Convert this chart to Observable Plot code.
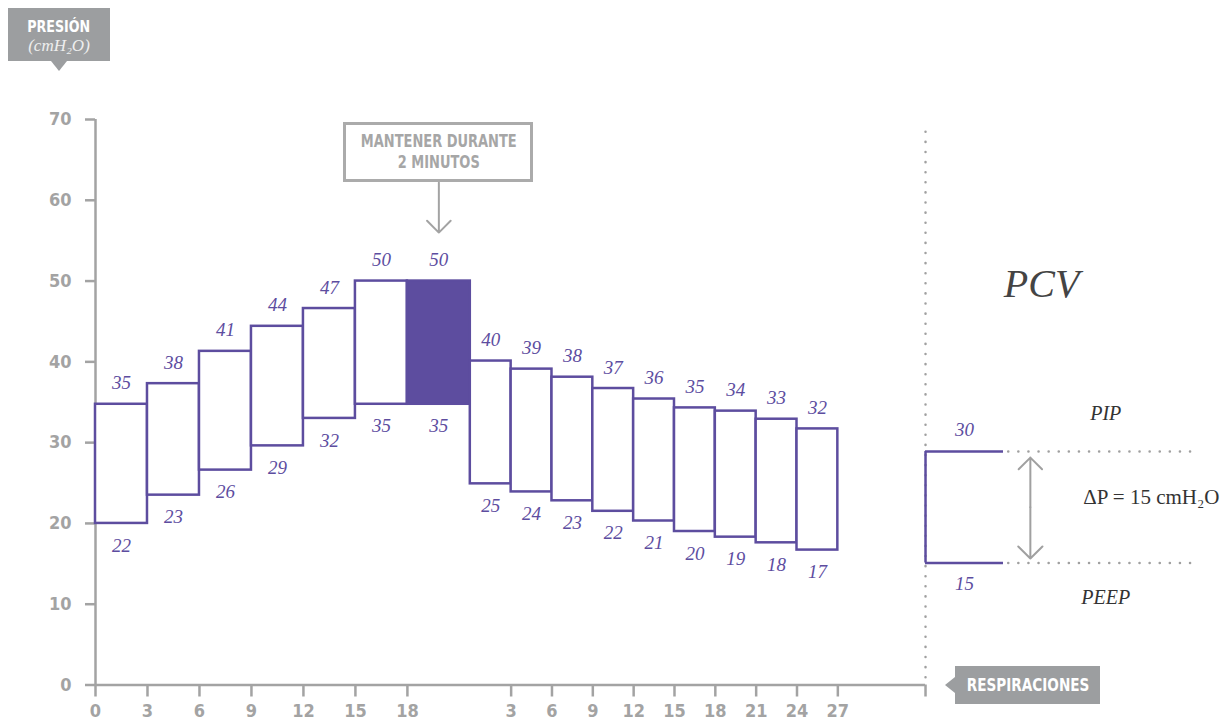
<!DOCTYPE html>
<html><head><meta charset="utf-8">
<script src="https://cdn.jsdelivr.net/npm/d3@7"></script>
<script src="https://cdn.jsdelivr.net/npm/@observablehq/plot@0.6"></script>
<style>
body{margin:0;background:#fff;}
#wrap{position:relative;width:1227px;height:720px;overflow:hidden;background:#fff;}
.cond{font-family:'DejaVu Sans Condensed','Liberation Sans Narrow','Arial Narrow',sans-serif;font-stretch:condensed;font-weight:bold;}
.sx{display:inline-block;transform-origin:50% 50%;white-space:nowrap;}
.badge{position:absolute;background:#9c9ea0;color:#fff;text-align:center;box-sizing:border-box;}
.badge .tri{position:absolute;width:0;height:0;}
#callout{position:absolute;box-sizing:border-box;border:3px solid #ababab;background:#fff;color:#a6a6a6;text-align:center;font-size:17px;line-height:21px;padding-top:6px;}
</style></head><body><div id="wrap"></div>
<script>
// ---------- data ----------
const rampTopLabels    = [35, 38, 41, 44, 47, 50];
const rampBottomLabels = [22, 23, 26, 29, 32, 35];
const rampTop    = [34.75, 37.3, 41.3, 44.4, 46.6, 50.0];
const rampBottom = [20.0, 23.5, 26.6, 29.6, 33.0, 34.75];
const rampStartBreath = [0, 3, 6, 9, 12, 15];

const holdTopLabel = 50, holdBottomLabel = 35;
const holdTop = 50.0, holdBottom = 34.75;

const descTopLabels    = [40, 39, 38, 37, 36, 35, 34, 33, 32];
const descBottomLabels = [25, 24, 23, 22, 21, 20, 19, 18, 17];
const descTop    = [40.1, 39.1, 38.1, 36.7, 35.4, 34.3, 33.9, 32.9, 31.7];
const descBottom = [24.9, 23.9, 22.8, 21.5, 20.3, 19.0, 18.3, 17.6, 16.7];
const descStartBreath = [0, 3, 6, 9, 12, 15, 18, 21, 24];

const rampTicks = [0, 3, 6, 9, 12, 15, 18];
const descTicks = [3, 6, 9, 12, 15, 18, 21, 24, 27];
const yTicks = [0, 10, 20, 30, 40, 50, 60, 70];

const pcvLabels = [30, 15];       // PIP, PEEP
const pcvLevels = [28.9, 15.1];   // as drawn
const pcvDelta = "ΔP = 15 cmH₂O";

// ---------- layout helpers ----------
const PURPLE = "#5d4d9f";
const GRAY = "#a3a3a3";
const SERIF = "'Liberation Serif','DejaVu Serif',serif";
const COND = "'DejaVu Sans Condensed','Liberation Sans Narrow','Arial Narrow',sans-serif";
const holdW = 3.63;                 // width of the 2-minute hold box
const descX0 = 18 + holdW;          // start of the decreasing phase
const descK = (42.84 - descX0) / 27; // breath -> x in the decreasing phase
const sepX = 47.9;                  // end of chart / PCV separator
const dx = b => descX0 + b * descK;

const boxes = [];
rampStartBreath.forEach((b, i) => boxes.push({x1: b, x2: b + 3, top: rampTop[i], bottom: rampBottom[i], tl: rampTopLabels[i], bl: rampBottomLabels[i], hold: false}));
boxes.push({x1: 18, x2: 18 + holdW, top: holdTop, bottom: holdBottom, tl: holdTopLabel, bl: holdBottomLabel, hold: true});
descStartBreath.forEach((b, i) => boxes.push({x1: dx(b), x2: dx(b + 3), top: descTop[i], bottom: descBottom[i], tl: descTopLabels[i], bl: descBottomLabels[i], hold: false}));

const tickMap = new Map();
rampTicks.forEach(t => tickMap.set(t, String(t)));
descTicks.forEach(t => tickMap.set(dx(t), String(t)));
tickMap.set(sepX, "");
const xTickPos = [...tickMap.keys()];

const holdC = 18 + holdW / 2;
const pcvX2 = sepX + 4.5;
const pcvC = (sepX + pcvX2) / 2;
const arrowX = sepX + 6.05;

const plot = Plot.plot({
  width: 1227, height: 720,
  marginTop: 119, marginBottom: 35.5, marginLeft: 95, marginRight: 23,
  x: {domain: [0, 64], axis: null},
  y: {domain: [0, 70], axis: null},
  style: {fontFamily: COND, fontSize: "18px", fontWeight: "bold", color: GRAY, background: "#fff", overflow: "visible"},
  marks: [
    Plot.axisY({ticks: yTicks, tickSize: 10, tickPadding: 14, strokeWidth: 2.5, stroke: GRAY, fill: GRAY, fontSize: 18}),
    Plot.axisX({ticks: xTickPos, tickFormat: d => tickMap.get(d), tickSize: 12, tickPadding: 7, strokeWidth: 2.5, stroke: GRAY, fill: GRAY, fontSize: 18}),
    Plot.ruleX([0], {y1: 0, y2: 70, stroke: GRAY, strokeWidth: 2.5}),
    Plot.ruleY([0], {x1: 0, x2: sepX, stroke: GRAY, strokeWidth: 2.5}),
    Plot.ruleX([sepX], {y1: 0.9, y2: 68.9, stroke: "#a0a0a0", strokeWidth: 2.5, strokeDasharray: "0.1 10", strokeLinecap: "round"}),
    // boxes
    Plot.rect(boxes, {x1: "x1", x2: "x2", y1: "bottom", y2: "top", fill: d => d.hold ? PURPLE : "white", stroke: PURPLE, strokeWidth: 2.5}),
    Plot.text(boxes, {x: d => (d.x1 + d.x2) / 2, y: "top", text: "tl", dy: -21, fill: PURPLE, fontFamily: SERIF, fontStyle: "italic", fontWeight: "normal", fontSize: 19}),
    Plot.text(boxes, {x: d => (d.x1 + d.x2) / 2, y: "bottom", text: "bl", dy: 22, fill: PURPLE, fontFamily: SERIF, fontStyle: "italic", fontWeight: "normal", fontSize: 19}),
    // hold arrow
    Plot.arrow([0], {x1: holdC, x2: holdC, y1: 62.2, y2: 56.0, stroke: GRAY, strokeWidth: 2, headAngle: 90, headLength: 17}),
    // PCV diagram
    Plot.ruleX([sepX], {y1: pcvLevels[1], y2: pcvLevels[0], stroke: PURPLE, strokeWidth: 2.5}),
    Plot.ruleY(pcvLevels, {x1: sepX, x2: pcvX2, stroke: PURPLE, strokeWidth: 2.5}),
    Plot.ruleY(pcvLevels, {x1: pcvX2 + 0.3, x2: sepX + 15.4, stroke: "#a0a0a0", strokeWidth: 2.5, strokeDasharray: "0.1 10", strokeLinecap: "round"}),
    Plot.arrow([0], {x1: arrowX, x2: arrowX, y1: 22, y2: 28.15, stroke: "#a0a0a0", strokeWidth: 2, headAngle: 90, headLength: 17}),
    Plot.arrow([0], {x1: arrowX, x2: arrowX, y1: 22, y2: 15.65, stroke: "#a0a0a0", strokeWidth: 2, headAngle: 90, headLength: 17}),
    Plot.text([pcvLabels[0]], {x: pcvC, y: pcvLevels[0], text: d => d, dy: -22, fill: PURPLE, fontFamily: SERIF, fontStyle: "italic", fontWeight: "normal", fontSize: 19}),
    Plot.text([pcvLabels[1]], {x: pcvC, y: pcvLevels[1], text: d => d, dy: 21, fill: PURPLE, fontFamily: SERIF, fontStyle: "italic", fontWeight: "normal", fontSize: 19}),
    Plot.text(["PIP"], {x: sepX + 10.4, y: pcvLevels[0], text: d => d, dy: -38, fill: "#333", fontFamily: SERIF, fontStyle: "italic", fontWeight: "normal", fontSize: 20}),
    Plot.text(["PEEP"], {x: sepX + 10.4, y: pcvLevels[1], text: d => d, dy: 35, fill: "#333", fontFamily: SERIF, fontStyle: "italic", fontWeight: "normal", fontSize: 20}),
    Plot.text([pcvDelta], {x: sepX + 9.1, y: 22, text: d => d, dy: -10, textAnchor: "start", fill: "#333", fontFamily: SERIF, fontWeight: "normal", fontSize: 21}),
    Plot.text(["PCV"], {x: sepX + 6.7, y: 50, text: d => d, dy: 3, fill: "#444", fontFamily: SERIF, fontStyle: "italic", fontWeight: "normal", fontSize: 40})
  ]
});

const wrap = document.getElementById("wrap");
wrap.appendChild(plot);
plot.style.position = "absolute"; plot.style.left = "0"; plot.style.top = "0";

const xs = plot.scale("x"), ys = plot.scale("y");

// PRESIÓN badge
const b1 = document.createElement("div");
b1.className = "badge";
Object.assign(b1.style, {left: "8px", top: "8px", width: "102px", height: "53px", paddingTop: "10px"});
b1.innerHTML = `<div class="cond" style="font-size:16px;line-height:18px"><span class="sx" style="transform:scaleX(0.88)">PRESIÓN</span></div>
<div style="font-family:${SERIF};font-style:italic;font-size:17px;line-height:19px;color:#eee">(cmH₂O)</div>
<div class="tri" style="left:43px;top:53px;border-left:8px solid transparent;border-right:8px solid transparent;border-top:10px solid #9c9ea0"></div>`;
wrap.appendChild(b1);

// RESPIRACIONES badge
const b2 = document.createElement("div");
b2.className = "badge";
Object.assign(b2.style, {left: "955px", top: "666px", width: "145px", height: "38px", paddingTop: "8px"});
b2.innerHTML = `<div class="cond" style="font-size:18px;line-height:21px"><span class="sx" style="transform:scaleX(0.84)">RESPIRACIONES</span></div>
<div class="tri" style="left:-10px;top:11px;border-top:8px solid transparent;border-bottom:8px solid transparent;border-right:10px solid #9c9ea0"></div>`;
wrap.appendChild(b2);

// callout
const c = document.createElement("div");
c.id = "callout"; c.className = "cond";
const cw = 190, ch = 60;
Object.assign(c.style, {left: (xs.apply(holdC) - cw / 2) + "px", top: (ys.apply(62.2) - ch) + "px", width: cw + "px", height: ch + "px"});
c.innerHTML = `<span class="sx" style="transform:scaleX(0.85)">MANTENER DURANTE<br>2 MINUTOS</span>`;
wrap.appendChild(c);
</script></body></html>
